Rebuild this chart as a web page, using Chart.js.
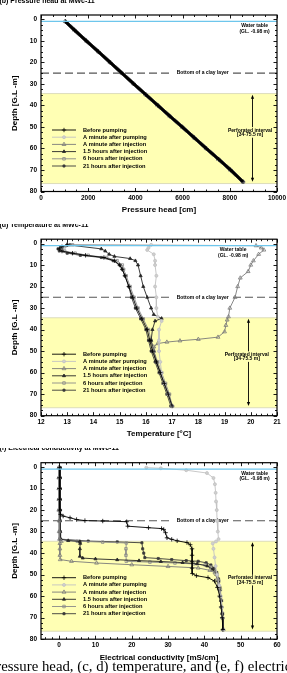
<!DOCTYPE html>
<html>
<head>
<meta charset="utf-8">
<script src="https://cdn.jsdelivr.net/npm/chart.js@4/dist/chart.umd.min.js"></script>
<style>
html, body { margin: 0; padding: 0; background: #fff; width: 287px; height: 673px; overflow: hidden; position: relative; }
canvas { position: absolute; left: 0; }
#cap { position: absolute; top: 658.6px; left: 0; white-space: nowrap; font: 14.8px/14.8px "Liberation Serif", "DejaVu Serif", serif; color: #000; }
</style>
</head>
<body>
<canvas id="c1" width="287" height="224" style="top:0px"></canvas>
<canvas id="c2" width="287" height="224" style="top:224px"></canvas>
<canvas id="c3" width="287" height="224" style="top:448px"></canvas>
<div id="cap"><span id="pre">(a, b) pr</span>essure head, (c, d) temperature, and (e, f) electrical conductivity</div>
<script>
// ---- data (depth in m below ground level) ----
const seriesNames = ['Before pumping', 'A minute after pumping', 'A minute after injection',
  '1.5 hours after injection', '6 hours after injection', '21 hours after injection'];

const depthTicks = [0, 10, 20, 30, 40, 50, 60, 70, 80];
const presTicks = [0, 2000, 4000, 6000, 8000, 10000];
const tempTicks = [12, 13, 14, 15, 16, 17, 18, 19, 20, 21];
const ecTicks = [0, 10, 20, 30, 40, 50, 60];

// pressure head: all six profiles lie on top of each other
const presDepth = [1, 5, 10, 15, 20, 25, 30, 35, 40, 45, 50, 55, 60, 65, 70, 75.5];
const presHead = [1030, 1420, 1920, 2430, 2930, 3430, 3930, 4440, 4950, 5460, 5980, 6490, 7000, 7520, 8030, 8560];

// temperature [deg C]
const tBeforeD = [0.6, 1.5, 2.5, 3.5, 4.5, 5.5, 6.5, 8, 10, 12, 15, 20, 25, 30, 35, 40, 45, 50, 55, 60, 65, 70, 75.5];
const tBeforeV = [13.0, 12.8, 12.7, 12.8, 13.2, 13.7, 14.4, 14.8, 15.0, 15.1, 15.2, 15.35, 15.5, 15.65, 15.85, 16.05, 16.15, 16.25, 16.4, 16.55, 16.7, 16.85, 17.0];
const tPumpD = [0.6, 2, 3, 5, 8, 10, 15, 20, 25, 30, 34, 36, 40, 45, 50, 55, 60, 65, 70, 75.5];
const tPumpV = [16.2, 16.1, 16.05, 16.3, 16.35, 16.35, 16.4, 16.35, 16.4, 16.4, 16.45, 16.6, 16.5, 16.5, 16.5, 16.55, 16.6, 16.7, 16.85, 17.0];
const tInjD = [0.6, 1.0, 2, 3, 5, 8, 10, 13, 16, 20, 25, 30, 34, 35.5, 38, 41, 43.5, 44.5, 45.2, 45.8, 46.5, 48, 50, 55, 60, 65, 70, 75.5];
const tInjV = [13.0, 20.2, 20.4, 20.5, 20.3, 20.1, 20.0, 19.9, 19.6, 19.5, 19.4, 19.2, 19.15, 19.1, 19.05, 19.0, 18.75, 18.0, 17.3, 16.8, 16.45, 16.3, 16.3, 16.4, 16.55, 16.7, 16.85, 17.0];
const t15hD = [0.6, 2.5, 3.5, 5, 6, 7, 8, 10, 15, 20, 25, 30, 33, 34.8, 36, 40, 45, 50, 55, 60, 65, 70, 75.5];
const t15hV = [13.0, 14.3, 14.45, 14.6, 14.8, 15.4, 15.6, 15.7, 15.8, 15.9, 16.05, 16.2, 16.3, 16.6, 16.35, 16.25, 16.2, 16.3, 16.4, 16.55, 16.7, 16.85, 17.0];
const t6hD = [0.6, 1.5, 2.5, 3.5, 4.5, 5.5, 6.5, 8, 10, 12, 15, 20, 25, 30, 35, 40, 45, 50, 55, 60, 65, 70, 75.5];
const t6hV = [13.2, 12.9, 12.8, 12.9, 13.3, 13.8, 14.5, 14.9, 15.1, 15.15, 15.25, 15.4, 15.55, 15.7, 15.9, 16.1, 16.2, 16.3, 16.45, 16.6, 16.75, 16.9, 17.0];
const t21hD = [0.6, 1.5, 2.5, 3.5, 4.5, 5.5, 6.5, 8, 10, 12, 15, 20, 25, 30, 35, 40, 45, 50, 55, 60, 65, 70, 75.5];
const t21hV = [13.1, 12.75, 12.65, 12.7, 13.0, 13.5, 14.3, 14.75, 15.0, 15.1, 15.2, 15.35, 15.45, 15.6, 15.8, 16.0, 16.1, 16.2, 16.35, 16.5, 16.65, 16.8, 16.95];

// electrical conductivity [mS/cm]
const ecBeforeD = [0.3, 5, 10, 15, 20, 22, 22.8, 23.6, 24.4, 24.9, 25.1, 25.4, 27.5, 28.2, 28.6, 29.0, 30.5, 32.9, 33.6, 34.3, 35.1, 36.1, 38, 41, 44, 47, 49.5, 50.5, 51.4, 53, 56, 60, 65, 70, 75.5];
const ecBeforeV = [0.1, 0.1, 0.1, 0.1, 0.2, 0.4, 1.1, 3.0, 4.8, 7.1, 12, 18.6, 18.9, 24.6, 28.2, 28.8, 29.3, 29.7, 31, 32.5, 35.2, 36.1, 36.6, 36.6, 36.6, 36.6, 36.7, 37.8, 41, 42.8, 43.6, 44.2, 44.6, 44.9, 45.1];
const ecPumpD = [0.3, 0.6, 1.5, 2.8, 5.1, 8, 12, 16, 20, 25, 30, 33.5, 34.6, 35.5, 38, 42, 46, 50, 55, 60, 65, 70, 75.5];
const ecPumpV = [24, 28, 35, 40.7, 42.5, 42.9, 43.1, 43.2, 43.4, 43.5, 43.7, 43.9, 43.2, 42.3, 42.5, 42.8, 43.1, 43.5, 44.1, 44.5, 44.8, 45.0, 45.2];
const ecInjD = [0.3, 5, 10, 15, 20, 25, 30, 33.5, 34.5, 35.5, 38, 41, 43, 43.8, 44.6, 45.4, 46.2, 46.9, 48, 49.2, 52, 55, 60, 65, 70, 75.5];
const ecInjV = [-0.1, -0.1, -0.1, -0.1, -0.1, 0, 0, 0.1, 0.6, 0.2, 0.2, 0.2, 0.3, 3.4, 10.3, 20, 30, 38.3, 41.5, 42.9, 43.5, 43.8, 44.3, 44.7, 45.0, 45.2];
const ec15hD = [0.3, 5, 10, 15, 20, 25, 30, 33.5, 34.2, 34.6, 35.5, 38, 41.5, 42.3, 42.7, 43.1, 43.5, 43.9, 44.4, 45, 46, 47.5, 50, 53, 57, 62, 68, 75.5];
const ec15hV = [0.2, 0.2, 0.2, 0.2, 0.2, 0.2, 0.3, 0.4, 2.5, 5.7, 5.8, 5.7, 5.7, 6.5, 10, 16, 22, 28, 34, 38, 40.8, 42.3, 43.3, 43.8, 44.2, 44.6, 44.9, 45.1];
const ec6hD = [0.3, 5, 10, 15, 20, 25, 30, 33.5, 34.5, 34.9, 35.3, 38, 41, 43.8, 44.2, 44.6, 45.0, 45.5, 46.5, 48, 50, 53, 57, 62, 68, 75.5];
const ec6hV = [0.0, 0.0, 0.0, 0.0, 0.0, 0.1, 0.1, 0.2, 5, 12, 18.5, 18.4, 18.4, 18.5, 25, 31.9, 37, 40.2, 41.8, 42.8, 43.5, 44.0, 44.4, 44.7, 45.0, 45.2];
const ec21hD = [0.3, 5, 10, 15, 20, 25, 30, 33.5, 34.4, 34.8, 35.2, 38, 40, 42.1, 42.5, 43.0, 43.5, 43.8, 44.5, 45.5, 47, 49, 52, 56, 62, 68, 75.5];
const ec21hV = [0.3, 0.3, 0.3, 0.3, 0.3, 0.3, 0.3, 0.4, 8, 16, 22.8, 23.0, 23.3, 23.6, 27.3, 31, 35, 38.3, 40.5, 41.8, 42.7, 43.4, 43.9, 44.3, 44.6, 44.9, 45.2];

// site annotations
const waterTable = 0.98;
const clayBottom = 25;
const bandTop = 34.5, bandBottom = 76.3;

// ---- styles ----
const FONT = '"Liberation Sans", Arial, Helvetica, sans-serif';
const styles = [
  { color: '#000000', point: 'cross', fill: '#000000', r: 2.2 },
  { color: '#c2c2c2', point: 'circle', fill: '#cfcfcf', r: 1.5 },
  { color: '#7a7a7a', point: 'triangle', fill: 'rgba(0,0,0,0)', r: 2.2 },
  { color: '#262626', point: 'triangle', fill: '#262626', r: 1.8 },
  { color: '#8a8a8a', point: 'rect', fill: 'rgba(0,0,0,0)', r: 1.8 },
  { color: '#3a3a3a', point: 'rect', fill: '#3a3a3a', r: 1.5 }
];

function hline(ctx, x0, x1, y) { ctx.beginPath(); ctx.moveTo(x0, y); ctx.lineTo(x1, y); ctx.stroke(); }

function makeDecor(p) {
  return {
    id: 'decor',
    beforeDatasetsDraw(chart) {
      const { ctx, chartArea: a } = chart;
      const y = chart.scales.y;
      ctx.save();
      const yt = y.getPixelForValue(bandTop), yb = y.getPixelForValue(bandBottom);
      ctx.fillStyle = '#ffffb4';
      ctx.fillRect(a.left, yt, a.width, yb - yt);
      ctx.strokeStyle = '#d4d4b4'; ctx.lineWidth = 0.8;
      hline(ctx, a.left, a.right, yt); hline(ctx, a.left, a.right, yb);

      const yc = y.getPixelForValue(clayBottom);
      ctx.strokeStyle = '#555'; ctx.lineWidth = 1.1; ctx.setLineDash([8, 4]);
      hline(ctx, a.left, a.right, yc);
      ctx.setLineDash([]);
      ctx.font = 'bold 5px ' + FONT;
      const lbl = 'Bottom of a clay layer';
      const cx = a.left + a.width * 0.685, w = ctx.measureText(lbl).width + 8;
      ctx.fillStyle = '#fff'; ctx.fillRect(cx - w / 2, yc - 3, w, 6);
      ctx.fillStyle = '#000'; ctx.textAlign = 'center'; ctx.textBaseline = 'middle';
      ctx.fillText(lbl, cx, yc);
      ctx.restore();
    },
    afterDatasetsDraw(chart) {
      const { ctx, chartArea: a } = chart;
      const x = chart.scales.x, y = chart.scales.y;
      ctx.save();
      // water table
      ctx.strokeStyle = '#6ec6ec'; ctx.lineWidth = 1.4;
      hline(ctx, a.left, a.right, y.getPixelForValue(waterTable));
      ctx.fillStyle = '#000'; ctx.textAlign = 'center'; ctx.textBaseline = 'middle';
      ctx.font = 'bold 5px ' + FONT;
      const wx = a.left + a.width * p.wtPos;
      ctx.fillText('Water table', wx, y.getPixelForValue(3.0));
      ctx.fillText('(GL. -0.98 m)', wx, y.getPixelForValue(5.5));

      // perforated interval arrow
      const ax = Math.round(a.left + a.width * p.arrowPos) + 0.5;
      const at = y.getPixelForValue(35), ab = y.getPixelForValue(75.5);
      ctx.strokeStyle = '#000'; ctx.lineWidth = 0.9;
      ctx.beginPath(); ctx.moveTo(ax, at + 2); ctx.lineTo(ax, ab - 2); ctx.stroke();
      ctx.beginPath(); ctx.moveTo(ax, at); ctx.lineTo(ax - 1.6, at + 4); ctx.lineTo(ax + 1.6, at + 4); ctx.closePath(); ctx.fill();
      ctx.beginPath(); ctx.moveTo(ax, ab); ctx.lineTo(ax - 1.6, ab - 4); ctx.lineTo(ax + 1.6, ab - 4); ctx.closePath(); ctx.fill();
      const px = a.left + a.width * p.perfPos;
      const l1 = 'Perforated interval', l2 = '[34-75.5 m]';
      const y1 = y.getPixelForValue(51.5), y2 = y.getPixelForValue(53.6);
      const pw = ctx.measureText(l1).width + 2;
      ctx.fillStyle = '#ffffb4'; ctx.fillRect(px - pw / 2, y1 - 3, pw, y2 - y1 + 6);
      ctx.fillStyle = '#000';
      ctx.fillText(l1, px, y1); ctx.fillText(l2, px, y2);

      // legend
      ctx.textAlign = 'left';
      ctx.font = 'bold 5.7px ' + FONT;
      seriesNames.forEach((name, i) => {
        const s = styles[i], ry = a.top + 115 + i * 7.2;
        ctx.strokeStyle = s.color; ctx.lineWidth = 0.9;
        hline(ctx, a.left + 11, a.left + 35, ry);
        ctx.fillStyle = s.fill; ctx.strokeStyle = s.color; ctx.lineWidth = 0.8;
        Chart.helpers.drawPoint(ctx, { pointStyle: s.point, radius: s.r, borderWidth: 0.8, rotation: 0 }, a.left + 23, ry);
        ctx.fillStyle = '#000';
        ctx.fillText(name, a.left + 42, ry);
      });

      // frame and inward ticks
      ctx.strokeStyle = '#000'; ctx.lineWidth = 1.2;
      ctx.strokeRect(a.left, a.top, a.width, a.height);
      ctx.lineWidth = 0.9;
      const ticks = (scale, lo, hi, minor, major, horiz) => {
        const k0 = Math.ceil(lo / minor - 1e-9), k1 = Math.floor(hi / minor + 1e-9);
        for (let k = k0; k <= k1; k++) {
          const v = k * minor;
          const isMajor = Math.abs(v / major - Math.round(v / major)) < 1e-6;
          const len = isMajor ? 3.5 : 2;
          const pos = Math.round(scale.getPixelForValue(v)) + 0.5;
          ctx.beginPath();
          if (horiz) {
            ctx.moveTo(pos, a.bottom); ctx.lineTo(pos, a.bottom - len);
            ctx.moveTo(pos, a.top); ctx.lineTo(pos, a.top + len);
          } else {
            ctx.moveTo(a.left, pos); ctx.lineTo(a.left + len, pos);
            ctx.moveTo(a.right, pos); ctx.lineTo(a.right - len, pos);
          }
          ctx.stroke();
        }
      };
      ticks(x, p.xMin, p.xMax, p.xMinor, p.xMajor, true);
      ticks(y, -2, 80, 2.5, 10, false);

      // panel title
      ctx.fillStyle = '#000'; ctx.textAlign = 'left'; ctx.textBaseline = 'middle';
      ctx.font = 'bold 7px ' + FONT;
      ctx.fillText(p.title, -0.6, a.top - 14.3);
      ctx.restore();
    }
  };
}

function makeChart(p) {
  const datasets = seriesNames.map((name, i) => {
    const d = p.series[i][0], v = p.series[i][1];
    return {
      label: name,
      data: d.map((dep, k) => ({ x: v[k], y: dep })),
      borderColor: styles[i].color,
      backgroundColor: styles[i].fill,
      borderWidth: p.lineWidth,
      pointStyle: styles[i].point,
      pointRadius: styles[i].r,
      pointBorderColor: styles[i].color,
      pointBackgroundColor: styles[i].fill,
      pointBorderWidth: 0.8,
      tension: 0,
      fill: false
    };
  });
  const xh = 224 - p.padTop - 176.5;
  return new Chart(document.getElementById(p.id), {
    type: 'line',
    data: { datasets },
    options: {
      responsive: false,
      animation: false,
      devicePixelRatio: 1,
      layout: { padding: { top: p.padTop, right: 10, left: 0, bottom: 0 } },
      plugins: { legend: { display: false }, tooltip: { enabled: false } },
      scales: {
        x: {
          type: 'linear', min: p.xMin, max: p.xMax,
          afterBuildTicks: s => { s.ticks = p.xTicks.map(v => ({ value: v })); },
          afterFit: s => { s.height = xh; s.paddingLeft = 0; s.paddingRight = 0; },
          grid: { display: false, drawTicks: false },
          border: { display: false },
          ticks: { color: '#000', padding: 2.6, maxRotation: 0, autoSkip: false,
            font: { family: FONT, size: 6.5, weight: 'bold' }, callback: v => String(v) },
          title: { display: true, text: p.xTitle, color: '#000',
            font: { family: FONT, size: 8, weight: 'bold' }, padding: { top: 0, bottom: xh - 18.5 - 4.8 } }
        },
        y: {
          type: 'linear', reverse: true, min: -2, max: 80,
          afterBuildTicks: s => { s.ticks = depthTicks.map(v => ({ value: v })); },
          afterFit: s => { s.width = 41; s.paddingTop = 0; s.paddingBottom = 0; },
          grid: { display: false, drawTicks: false },
          border: { display: false },
          ticks: { color: '#000', padding: 4, autoSkip: false,
            font: { family: FONT, size: 6.5, weight: 'bold' }, callback: v => String(v) },
          title: { display: true, text: 'Depth [G.L -m]', color: '#000',
            font: { family: FONT, size: 8, weight: 'bold' }, padding: { top: 9.7, bottom: 0 } }
        }
      }
    },
    plugins: [makeDecor(p)]
  });
}

makeChart({
  id: 'c1', padTop: 15, title: '(b) Pressure head at MWc-11', xTitle: 'Pressure head [cm]',
  xMin: 0, xMax: 10000, xTicks: presTicks, xMinor: 500, xMajor: 2000, lineWidth: 3,
  wtPos: 0.905, arrowPos: 0.895, perfPos: 0.886,
  series: [[presDepth, presHead], [presDepth, presHead], [presDepth, presHead],
           [presDepth, presHead], [presDepth, presHead], [presDepth, presHead]]
});
makeChart({
  id: 'c2', padTop: 15.2, title: '(d) Temperature at MWc-11', xTitle: 'Temperature [°C]',
  xMin: 12, xMax: 21, xTicks: tempTicks, xMinor: 0.2, xMajor: 1, lineWidth: 0.9,
  wtPos: 0.814, arrowPos: 0.878, perfPos: 0.872,
  series: [[tBeforeD, tBeforeV], [tPumpD, tPumpV], [tInjD, tInjV],
           [t15hD, t15hV], [t6hD, t6hV], [t21hD, t21hV]]
});
makeChart({
  id: 'c3', padTop: 14.7, title: '(f) Electrical conductivity at MWc-11', xTitle: 'Electrical conductivity [mS/cm]',
  xMin: -5, xMax: 60, xTicks: ecTicks, xMinor: 2, xMajor: 10, lineWidth: 0.9,
  wtPos: 0.905, arrowPos: 0.895, perfPos: 0.886,
  series: [[ecBeforeD, ecBeforeV], [ecPumpD, ecPumpV], [ecInjD, ecInjV],
           [ec15hD, ec15hV], [ec6hD, ec6hV], [ec21hD, ec21hV]]
});

const cap = document.getElementById('cap');
cap.style.left = (1 - document.getElementById('pre').offsetWidth) + 'px';
</script>
</body>
</html>
